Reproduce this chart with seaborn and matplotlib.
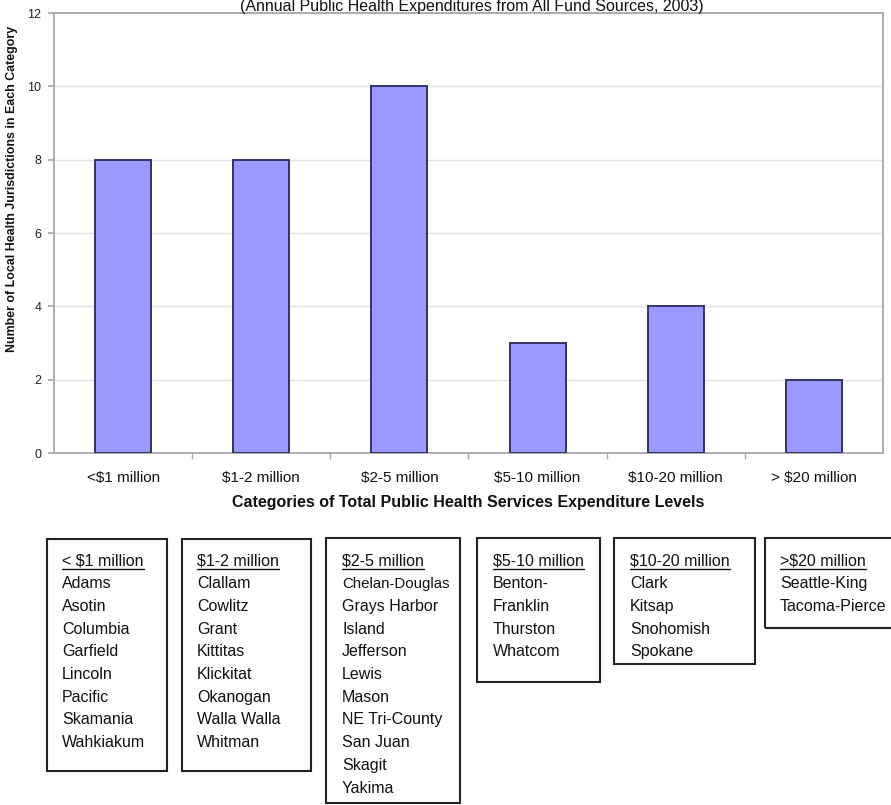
import matplotlib
matplotlib.use("Agg")
import matplotlib.pyplot as plt
import seaborn as sns
import pandas as pd
from matplotlib.patches import Rectangle
from matplotlib.lines import Line2D

# ---- data ----
categories = ["<$1 million", "$1-2 million", "$2-5 million", "$5-10 million",
              "$10-20 million", "> $20 million"]
counts = [8, 8, 10, 3, 4, 2]

box_headers = ["< $1 million", "$1-2 million", "$2-5 million", "$5-10 million",
               "$10-20 million", ">$20 million"]
box_lists = [
    ["Adams", "Asotin", "Columbia", "Garfield", "Lincoln", "Pacific", "Skamania", "Wahkiakum"],
    ["Clallam", "Cowlitz", "Grant", "Kittitas", "Klickitat", "Okanogan", "Walla Walla", "Whitman"],
    ["Chelan-Douglas", "Grays Harbor", "Island", "Jefferson", "Lewis", "Mason",
     "NE Tri-County", "San Juan", "Skagit", "Yakima"],
    ["Benton-", "Franklin", "Thurston", "Whatcom"],
    ["Clark", "Kitsap", "Snohomish", "Spokane"],
    ["Seattle-King", "Tacoma-Pierce"],
]

title = "(Annual Public Health Expenditures from All Fund Sources, 2003)"
ylabel = "Number of Local Health Jurisdictions in Each Category"
xlabel = "Categories of Total Public Health Services Expenditure Levels"

# ---- figure ----
W, H = 891, 805
sns.set_theme(style="white")
plt.rcParams["font.family"] = ["Liberation Sans", "DejaVu Sans"]
fig = plt.figure(figsize=(W / 100, H / 100), dpi=100)
fig.patch.set_facecolor("white")

def fx(px):
    return px / W

def fy(py):
    return 1 - py / H

ax_left, ax_right, ax_top, ax_bot = 54, 883, 13, 453
ax = fig.add_axes([fx(ax_left), fy(ax_bot), fx(ax_right - ax_left), (ax_bot - ax_top) / H])

df = pd.DataFrame({"category": categories, "count": counts})
sns.barplot(data=df, x="category", y="count", color="#9999FF", saturation=1,
            edgecolor="#333366", linewidth=1.4, width=0.405, ax=ax, zorder=3)

ax.set_xlim(-0.5, len(categories) - 0.5)
ax.set_ylim(0, 12)
ax.set_yticks(range(0, 13, 2))
ax.yaxis.grid(True, color="#e2e2e2", linewidth=1.0, zorder=0)
ax.set_axisbelow(True)
for s in ax.spines.values():
    s.set_color("#a8a8a8")
    s.set_linewidth(1.3)
    s.set_visible(True)

ax.set_xticks([i + 0.5 for i in range(len(categories) - 1)], minor=True)
ax.tick_params(axis="x", which="major", length=0, pad=13, labelsize=11, colors="#111111")
ax.tick_params(axis="x", which="minor", length=4, color="#a8a8a8", direction="out", bottom=True)
ax.tick_params(axis="y", which="major", length=4, color="#a8a8a8", direction="out", left=True,
               pad=5, labelsize=9, labelcolor="#222222")
ax.set_xlabel(xlabel, fontsize=11.5, fontweight="bold", labelpad=7, color="#111111")
ax.set_ylabel(ylabel, fontsize=8.9, fontweight="bold", color="#111111")
ax.yaxis.set_label_coords((18 - ax_left) / (ax_right - ax_left), (ax_bot - 189) / (ax_bot - ax_top))

fig.text(fx(472), fy(10.5), title, fontsize=11.5, ha="center", va="baseline", color="#111111")

# ---- boxes below ----
boxes = [  # left, top, right, bottom (pixels)
    (47, 539, 167, 771),
    (182, 539, 311, 771),
    (326, 538, 460, 803),
    (477, 538, 600, 682),
    (614, 538, 755, 664),
    (765, 538, 900, 628),
]
text_x = [62, 197, 342, 493, 630, 780]
line_h = 22.7
first_y = 561

for (l, t, r, b) in boxes:
    fig.add_artist(Rectangle((fx(l), fy(b)), fx(r - l), (b - t) / H, transform=fig.transFigure,
                             fill=False, edgecolor="#222222", linewidth=1.5))

renderer = fig.canvas.get_renderer()
for i, (hdr, names) in enumerate(zip(box_headers, box_lists)):
    x = text_x[i]
    ht = fig.text(fx(x), fy(first_y), hdr, fontsize=11.5, ha="left", va="center", color="#111111")
    bb = ht.get_window_extent(renderer=renderer)
    uy = fy(first_y + 8)
    fig.add_artist(Line2D([bb.x0 / W, bb.x1 / W], [uy, uy], transform=fig.transFigure,
                          color="#111111", linewidth=1.0))
    for j, name in enumerate(names):
        fs = 10.8 if name == "Chelan-Douglas" else 11.5
        fig.text(fx(x), fy(first_y + line_h * (j + 1)), name, fontsize=fs, ha="left",
                 va="center", color="#111111")

fig.savefig("out.png", dpi=100, facecolor="white")
